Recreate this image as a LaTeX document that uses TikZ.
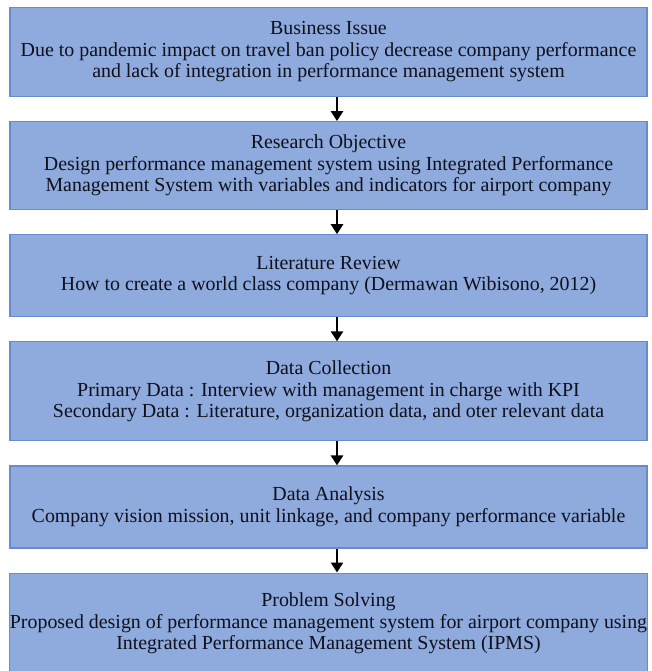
\documentclass[tikz,border=0pt]{standalone}
\usepackage{fontspec}
\setmainfont{Liberation Serif}
\usepackage{tikz}
\usetikzlibrary{arrows.meta, positioning}

\definecolor{boxfill}{RGB}{143,170,220}
\definecolor{boxline}{RGB}{104,138,206}
\definecolor{ink}{RGB}{14,16,28}

\begin{document}
\begin{tikzpicture} [node distance = 24pt,
        stage/.style = {rectangle, draw=boxline, line width=1.1pt, fill=boxfill,
            minimum width=637pt, align=center, inner sep=0pt, text=ink,
            font=\rmfamily\fontsize{19.9}{21.5}\selectfont},
        flow/.style = {-{Triangle[width=12pt,length=10pt]}, line width=2.8pt, black}]
        \useasboundingbox (0pt,0pt) rectangle (652pt,-671pt);

        \node (issue) [stage, minimum height=89pt, anchor=north] at (328.5pt,-7pt)
            {Business Issue\\Due to pandemic impact on travel ban policy decrease company performance\\and lack of integration in performance management system};
        \node (objective) [stage, minimum height=88pt, below = of issue]
            {Research Objective\\Design performance management system using Integrated Performance\\Management System with variables and indicators for airport company};
        \node (review) [stage, minimum height=82pt, below = of objective]
            {Literature Review\\How to create a world class company (Dermawan Wibisono, 2012)};
        \node (collect) [stage, minimum height=99pt, below = of review]
            {Data Collection\\Primary Data : Interview with management in charge with KPI\\Secondary Data : Literature, organization data, and oter relevant data};
        \node (analysis) [stage, minimum height=82pt, below = of collect]
            {Data Analysis\\Company vision mission, unit linkage, and company performance variable};
        \node (solving) [stage, minimum height=101pt, below = of analysis]
            {Problem Solving\\Proposed design of performance management system for airport company using\\Integrated Performance Management System (IPMS)};

        \path[flow] ([xshift=8.5pt]issue.south) edge ([xshift=8.5pt]objective.north);
        \path[flow] ([xshift=8.5pt]objective.south) edge ([xshift=8.5pt]review.north);
        \path[flow] ([xshift=8.5pt]review.south) edge ([xshift=8.5pt]collect.north);
        \path[flow] ([xshift=8.5pt]collect.south) edge ([xshift=8.5pt]analysis.north);
        \path[flow] ([xshift=8.5pt]analysis.south) edge ([xshift=8.5pt]solving.north);
    \end{tikzpicture}
\end{document}
